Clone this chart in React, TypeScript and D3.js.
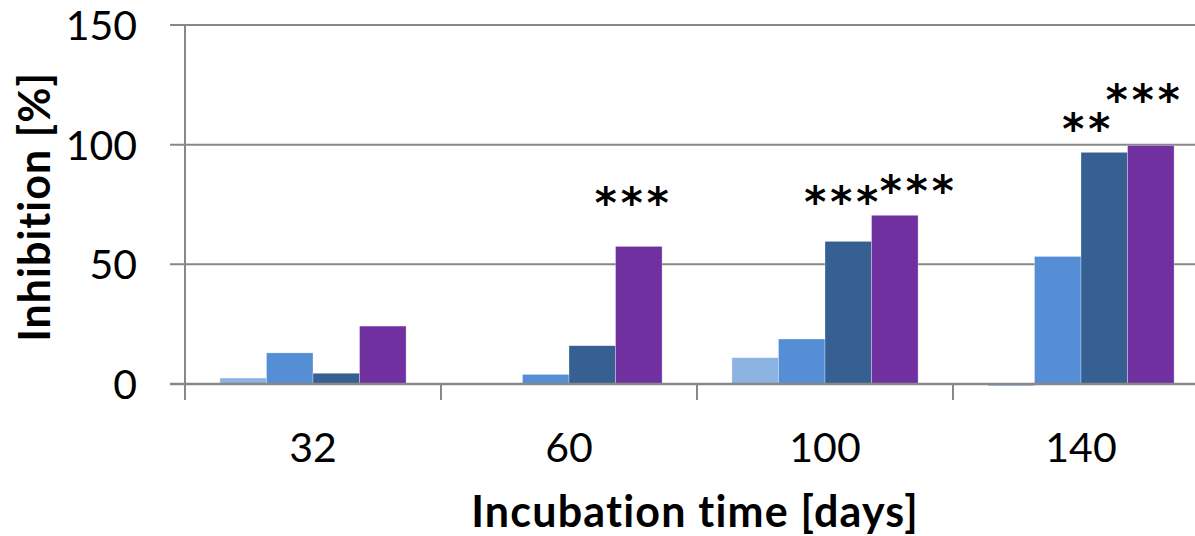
import React from 'react';
import * as d3 from 'd3';

// Incubation times (days)
const categories = ['32', '60', '100', '140'];
const seriesNames = ['s1', 's2', 's3', 's4'];
const seriesColors = ['#8DB3E2', '#558ED5', '#376092', '#7030A0'];

// Inhibition [%] per series, one value per category
const s1Values = [2.5, 0.3, 11, -0.8];
const s2Values = [13, 4, 18.8, 53.3];
const s3Values = [4.5, 16, 59.6, 96.8];
const s4Values = [24.2, 57.5, 70.5, 99.7];
const seriesValues = [s1Values, s2Values, s3Values, s4Values];

const yTicks = [0, 50, 100, 150];

// significance markers: category, series index, label, centre height (in % units)
const starCats = ['60', '100', '100', '140', '140'];
const starSeries = [3, 2, 3, 2, 3];
const starLabels = ['***', '***', '***', '**', '***'];
const starLevels = [79, 79.5, 84, 110, 122];
const starDx = [-5, -5, 24, -16, -6]; // label nudges, px

const W = 1195;
const H = 536;
const margin = { top: 25, left: 185, bottom: 152 };
const plotRight = 1209;

const font = 'Lato, "Open Sans", sans-serif';
const starFont = '"DejaVu Sans", sans-serif';
const starSize = 42;

export default function App() {
  const y = d3
    .scaleLinear()
    .domain([0, 150])
    .range([H - margin.bottom, margin.top]);

  const x0 = d3
    .scaleBand()
    .domain(categories)
    .range([margin.left, plotRight])
    .paddingInner(0)
    .paddingOuter(0);

  const x1 = d3
    .scaleBand()
    .domain(seriesNames)
    .range([0, x0.bandwidth()])
    .paddingInner(0)
    .paddingOuter(0.75);

  const y0 = y(0);
  const gridColor = '#888888';

  return (
    <svg
      width={W}
      height={H}
      style={{ position: 'absolute', left: 0, top: 0, background: '#fff' }}
    >
      {/* gridlines */}
      {yTicks.map(t => (
        <line
          key={'g' + t}
          x1={margin.left - 15}
          x2={plotRight}
          y1={y(t)}
          y2={y(t)}
          stroke={gridColor}
          strokeWidth={2}
        />
      ))}

      {/* bars */}
      {categories.map((c, ci) => (
        <g key={c} transform={`translate(${x0(c)},0)`}>
          {seriesNames.map((s, si) => {
            const v = seriesValues[si][ci];
            const top = Math.min(y(v), y0);
            const h = Math.abs(y(v) - y0);
            return (
              <rect
                key={s}
                x={x1(s)!}
                y={top}
                width={x1.bandwidth()}
                height={Math.max(h, 0.8)}
                fill={seriesColors[si]}
                stroke="#ffffff"
                strokeOpacity={0.5}
                strokeWidth={0.6}
              />
            );
          })}
        </g>
      ))}

      {/* zero line on top of bars */}
      <line
        x1={margin.left - 15}
        x2={plotRight}
        y1={y0}
        y2={y0}
        stroke={gridColor}
        strokeWidth={2.5}
      />

      {/* y axis line */}
      <line
        x1={margin.left}
        x2={margin.left}
        y1={y(150)}
        y2={y0 + 16}
        stroke={gridColor}
        strokeWidth={2}
      />

      {/* category separators */}
      {categories.slice(1).map(c => (
        <line
          key={'sep' + c}
          x1={x0(c)!}
          x2={x0(c)!}
          y1={y0}
          y2={y0 + 16}
          stroke={gridColor}
          strokeWidth={2}
        />
      ))}

      {/* y tick labels */}
      {yTicks.map(t => (
        <text
          key={'yl' + t}
          x={137}
          y={y(t) + 15}
          textAnchor="end"
          fontFamily={font}
          fontSize={41}
          fill="#000"
        >
          {t}
        </text>
      ))}

      {/* x tick labels */}
      {categories.map(c => (
        <text
          key={'xl' + c}
          x={x0(c)! + x0.bandwidth() / 2}
          y={462}
          textAnchor="middle"
          fontFamily={font}
          fontSize={41}
          fill="#000"
        >
          {c}
        </text>
      ))}

      {/* significance stars */}
      {starLabels.map((lab, i) => {
        const cx =
          x0(starCats[i])! + x1(seriesNames[starSeries[i]])! + x1.bandwidth() / 2 + starDx[i];
        return (
          <text
            key={'st' + i}
            x={cx}
            y={y(starLevels[i]) + starSize * 0.55}
            textAnchor="middle"
            fontFamily={starFont}
            fontSize={starSize}
            fontWeight="bold"
            letterSpacing={4}
            fill="#000"
          >
            {lab}
          </text>
        );
      })}

      {/* axis titles */}
      <text
        x={695}
        y={527}
        textAnchor="middle"
        fontFamily={font}
        fontSize={43}
        fontWeight="bold"
        letterSpacing={1.2}
        fill="#000"
      >
        Incubation time [days]
      </text>
      <text
        transform={`translate(50, ${207}) rotate(-90)`}
        textAnchor="middle"
        fontFamily={font}
        fontSize={43}
        fontWeight="bold"
        letterSpacing={1}
        fill="#000"
      >
        Inhibition [%]
      </text>
    </svg>
  );
}
